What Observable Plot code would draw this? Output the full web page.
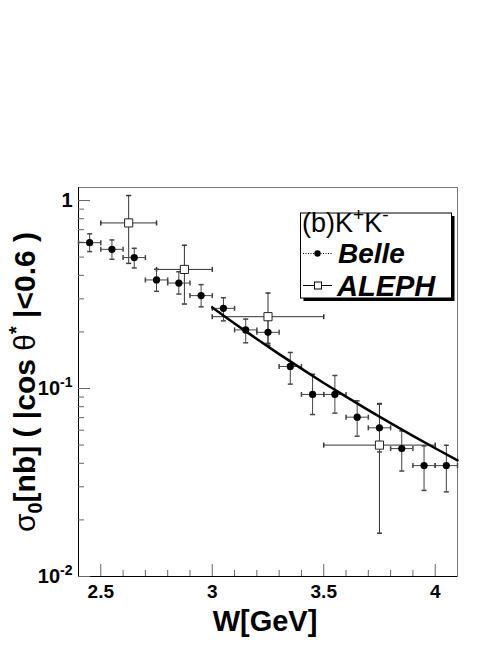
<!DOCTYPE html>
<html><head><meta charset="utf-8">
<script src="https://cdn.jsdelivr.net/npm/d3@7"></script>
<script src="https://cdn.jsdelivr.net/npm/@observablehq/plot@0.6"></script>
<style>body{margin:0;background:#fff}</style>
</head><body><div id="chart"></div>
<script>
// Belle data
const belleW = [2.45,2.55,2.65,2.75,2.85,2.95,3.05,3.15,3.25,3.35,3.45,3.55,3.65,3.75,3.85,3.95,4.05];
const belleSigma = [0.597,0.550,0.497,0.378,0.364,0.312,0.267,0.205,0.199,0.131,0.093,0.093,0.0704,0.0618,0.0479,0.0389,0.0389];
const belleLo = [0.535,0.487,0.438,0.329,0.318,0.272,0.229,0.175,0.174,0.1055,0.0727,0.074,0.0558,0.046,0.0364,0.0287,0.0282];
const belleHi = [0.665,0.617,0.557,0.431,0.418,0.357,0.304,0.234,0.233,0.1555,0.119,0.1173,0.086,0.0832,0.0595,0.0495,0.0499];
const belleHalfBin = 0.05;
// ALEPH data
const alephW = [2.625,2.875,3.25,3.75];
const alephWLo = [2.5,2.75,3.0,3.5];
const alephWHi = [2.75,3.0,3.5,4.0];
const alephSigma = [0.76,0.43,0.241,0.050];
const alephLo = [0.463,0.2815,0.17,0.017];
const alephHi = [1.063,0.578,0.322,0.0826];
// fit curve
const fitW = [3.0,3.1,3.2,3.3,3.4,3.5,3.6,3.7,3.8,3.9,4.0,4.1];
const fitSigma = [0.270,0.222,0.1835,0.1524,0.1276,0.107,0.0905,0.0768,0.0654,0.0560,0.0481,0.0415];
// axes
const xMajor = [2.5,3,3.5,4];
const xTickLabels = ["2.5","3","3.5","4"];
const xMinor = [2.6,2.7,2.8,2.9,3.1,3.2,3.3,3.4,3.6,3.7,3.8,3.9];
const yMajor = [0.01,0.1,1];
const yTickLabels = ["10^-2","10^-1","1"];
const yMinor = [0.02,0.03,0.04,0.05,0.06,0.07,0.08,0.09,0.2,0.3,0.4,0.5,0.6,0.7,0.8,0.9];
const xLabel = "W[GeV]";
const yLabel = "σ0[nb] ( |cos θ* |<0.6 )";
const legendTitle = "(b)K+K-";
const legendNames = ["Belle","ALEPH"];

const belle = belleW.map((w,i)=>({w, s:belleSigma[i], lo:belleLo[i], hi:belleHi[i]}));
const aleph = alephW.map((w,i)=>({w, s:alephSigma[i], lo:alephLo[i], hi:alephHi[i], wl:alephWLo[i], wh:alephWHi[i]}));
const fit = fitW.map((w,i)=>({w, s:fitSigma[i]}));

const W = 498, H = 645, ML = 78, MR = 41, MT = 187, MB = 69;
const FW = W-ML-MR, FH = H-MT-MB;
const font = "'Liberation Sans', Arial, Helvetica, sans-serif";
const capH = {draw(ctx){ctx.moveTo(-2.5,0); ctx.lineTo(2.5,0);}};
const capV = {draw(ctx){ctx.moveTo(0,-2.5); ctx.lineTo(0,2.5);}};
const bc = "#444", ac = "#333", tc = "#666";

const chart = Plot.plot({
  width: W, height: H,
  marginLeft: ML, marginRight: MR, marginTop: MT, marginBottom: MB,
  style: {background:"#fff", fontFamily: font},
  x: {domain:[2.4,4.1], axis:null},
  y: {type:"log", domain:[0.01,1.173], axis:null},
  marks: [
    Plot.frame({stroke:"#777"}),
    Plot.ruleY([0.01], {stroke:"#000"}),
    Plot.ruleX([2.4], {stroke:"#000"}),
    Plot.tickX(xMajor, {x:d=>d, insetTop:FH-12, stroke:tc}),
    Plot.tickX(xMinor, {x:d=>d, insetTop:FH-6, stroke:tc}),
    Plot.tickY(yMajor, {y:d=>d, insetRight:FW-12, stroke:tc}),
    Plot.tickY(yMinor, {y:d=>d, insetRight:FW-6, stroke:tc}),
    Plot.text(xMajor, {x:d=>d, frameAnchor:"bottom", lineAnchor:"middle", textAnchor:"middle", dy:15, text:(d,i)=>xTickLabels[i], fontSize:19, fontWeight:"bold", fill:"#000"}),
    Plot.text(yMajor, {y:d=>d, frameAnchor:"left", lineAnchor:"middle", dx:-6, textAnchor:"end", text:(d,i)=>yTickLabels[i], fontSize:20, fontWeight:"bold", fill:"#000"}),
    Plot.text([xLabel], {frameAnchor:"bottom", lineAnchor:"middle", textAnchor:"middle", dx:-3, dy:45, text:d=>d, fontSize:29, fontWeight:"bold", fill:"#000"}),
    Plot.text([yLabel], {frameAnchor:"left", lineAnchor:"middle", textAnchor:"middle", dx:-53, rotate:-90, text:d=>d, fontSize:30, fontWeight:"bold", fill:"#000"}),
    // ALEPH error bars
    Plot.ruleX(aleph, {x:"w", y1:"lo", y2:"hi", stroke:ac}),
    Plot.ruleY(aleph, {y:"s", x1:"wl", x2:"wh", stroke:ac}),
    Plot.dot(aleph, {x:"w", y:"lo", symbol:capH, stroke:ac, fill:"none"}),
    Plot.dot(aleph, {x:"w", y:"hi", symbol:capH, stroke:ac, fill:"none"}),
    Plot.dot(aleph, {x:"wl", y:"s", symbol:capV, stroke:ac, fill:"none"}),
    Plot.dot(aleph, {x:"wh", y:"s", symbol:capV, stroke:ac, fill:"none"}),
    // Belle error bars
    Plot.ruleX(belle, {x:"w", y1:"lo", y2:"hi", stroke:bc}),
    Plot.ruleY(belle, {y:"s", x1:d=>d.w-belleHalfBin, x2:d=>d.w+belleHalfBin, stroke:bc}),
    Plot.dot(belle, {x:"w", y:"lo", symbol:capH, stroke:bc, fill:"none"}),
    Plot.dot(belle, {x:"w", y:"hi", symbol:capH, stroke:bc, fill:"none"}),
    Plot.dot(belle, {x:d=>d.w-belleHalfBin, y:"s", symbol:capV, stroke:bc, fill:"none"}),
    Plot.dot(belle, {x:d=>d.w+belleHalfBin, y:"s", symbol:capV, stroke:bc, fill:"none"}),
    // fit
    Plot.line(fit, {x:"w", y:"s", stroke:"#000", strokeWidth:2.5}),
    // markers
    Plot.dot(belle, {x:"w", y:"s", r:3.6, fill:"#000", stroke:"none"}),
    Plot.dot(aleph, {x:"w", y:"s", symbol:"square", r:4.6, fill:"#fff", stroke:"#222", strokeWidth:1})
  ]
});
document.getElementById("chart").appendChild(chart);

const svg = d3.select(chart);
// superscripts on y tick labels
svg.selectAll("text").filter(function(){ return yTickLabels.includes(this.textContent) && this.textContent.includes("^"); }).each(function(){
  const t = d3.select(this); const s = t.text();
  const k = s.indexOf("^");
  t.text(null);
  t.append("tspan").text(s.slice(0,k));
  t.append("tspan").attr("dy","-8").attr("font-size",14).text(s.slice(k+1));
});
// y title with sub/superscripts
svg.selectAll("text").filter(function(){ return this.textContent === yLabel; }).each(function(){
  const t = d3.select(this);
  t.text(null);
  t.append("tspan").attr("font-weight","normal").text("σ");
  t.append("tspan").attr("dy","7").attr("font-size",20).text("0");
  t.append("tspan").attr("dy","-7").text("[nb] ( |cos ");
  t.append("tspan").attr("font-weight","normal").text("θ");
  t.append("tspan").attr("dy","-12").attr("font-size",20).text("*");
  t.append("tspan").attr("dy","12").text(" |<0.6 )");
});
// legend
const lg = svg.append("g").attr("font-family", font).attr("text-anchor","start");
lg.append("rect").attr("x",303.5).attr("y",216).attr("width",151).attr("height",85).attr("fill","#000");
lg.append("rect").attr("x",300.5).attr("y",213).attr("width",151).attr("height",85).attr("fill","#fff").attr("stroke","#000");
const tt = lg.append("text").attr("x",302).attr("y",232).attr("font-size",27);
tt.append("tspan").text(legendTitle.slice(0,4));
tt.append("tspan").attr("dy","-11").attr("font-size",19).text(legendTitle[4]);
tt.append("tspan").attr("dy","11").text(legendTitle[5]);
tt.append("tspan").attr("dy","-11").attr("font-size",19).text(legendTitle[6]);
lg.append("line").attr("x1",303).attr("x2",332).attr("y1",253.5).attr("y2",253.5).attr("stroke","#000").attr("stroke-dasharray","1,1.5");
lg.append("circle").attr("cx",317.5).attr("cy",253.5).attr("r",3.2).attr("fill","#000");
lg.append("text").attr("x",338).attr("y",263).attr("font-size",28).attr("font-weight","bold").attr("font-style","italic").text(legendNames[0]);
lg.append("line").attr("x1",303).attr("x2",332).attr("y1",285.5).attr("y2",285.5).attr("stroke","#000");
lg.append("rect").attr("x",314.5).attr("y",282).attr("width",7).attr("height",7).attr("fill","#fff").attr("stroke","#000");
lg.append("text").attr("x",337).attr("y",296).attr("font-size",29).attr("font-weight","bold").attr("font-style","italic").text(legendNames[1]);
</script>
</body></html>
